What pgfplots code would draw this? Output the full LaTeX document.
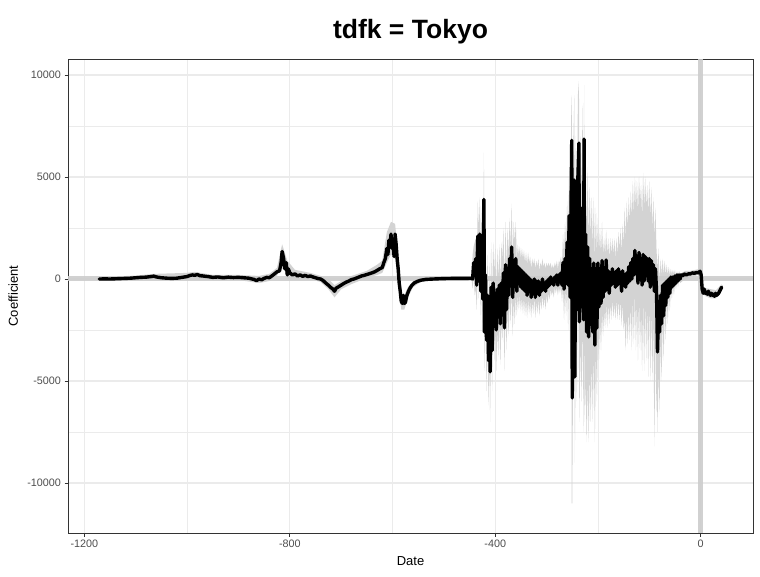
\documentclass[border=0pt]{standalone}
\usepackage{fontspec}
\setmainfont{Liberation Sans}
\usepackage{pgfplots}
\pgfplotsset{compat=1.18}
\usepackage{pgfplotstable}
\usepgfplotslibrary{fillbetween}
\definecolor{gridc}{RGB}{235,235,235}
\definecolor{rib}{RGB}{211,211,211}
\definecolor{refc}{RGB}{204,204,204}
\definecolor{g20}{RGB}{51,51,51}
\definecolor{g30}{RGB}{77,77,77}

\pgfplotstableread{
x lo hi
-1171 -80 80
-1100 -50 170
-1065 0 250
-1000 0 300
-985 50 350
-950 -50 200
-900 -50 200
-860 -200 150
-840 -100 250
-825 150 550
-815 800 1700
-805 0 900
-790 50 450
-760 0 300
-740 -150 150
-725 -500 0
-713 -900 -300
-700 -500 -100
-680 -250 150
-650 50 400
-630 200 700
-620 300 900
-611 800 2300
-603 1200 2800
-595 1000 2700
-589 -200 1200
-583 -1500 -700
-577 -1500 -800
-570 -900 -400
-560 -400 -100
-545 -150 30
-520 -50 60
-446 -30 100
-444 -500 1200
-442 200 1600
-440 -800 1800
-438 -500 2000
-436 -1500 800
-434 500 3800
-432 -1000 2500
-430 200 4000
-428 -2000 1500
-426 -200 3500
-424 -2500 1000
-422 2000 6200
-421 -4500 -500
-419 -1500 2000
-417 -5500 -800
-415 -3000 1200
-413 -6200 -1500
-411 -4000 800
-410 -7000 -2500
-408 -2500 1800
-406 -5500 -1000
-404 -2000 1800
-402 -4000 300
-400 -2500 1500
-398 -4500 -500
-396 -2500 1500
-394 -3800 0
-392 -2000 1700
-390 -4200 -200
-388 -2200 1800
-386 -3000 1000
-384 -1500 2500
-382 -4500 -300
-380 -1200 2800
-378 -3500 500
-376 -1500 2500
-374 -2800 1200
-372 -1000 3000
-370 -2200 1600
-368 -500 3700
-366 -2800 1000
-364 -1000 2800
-362 -2200 1800
-360 -800 2800
-358 -1800 1000
-356 -800 1700
-354 -1500 1200
-352 -800 1600
-350 -1600 1000
-348 -900 1500
-346 -1700 1000
-344 -900 1400
-342 -1800 800
-340 -1000 1300
-338 -1900 700
-336 -1000 1300
-334 -1700 800
-332 -1100 1100
-330 -1900 500
-328 -1100 1000
-326 -1700 700
-324 -900 1000
-322 -1900 500
-320 -1100 900
-318 -1700 600
-316 -1000 1000
-314 -1800 400
-312 -1000 800
-310 -1500 600
-308 -800 1000
-306 -1400 600
-304 -900 800
-302 -1500 500
-300 -800 800
-298 -1200 600
-296 -700 800
-294 -1000 600
-292 -500 800
-290 -800 500
-288 -600 700
-286 -900 500
-284 -400 800
-282 -700 600
-280 -400 900
-278 -800 500
-276 -400 900
-274 -700 800
-272 -400 1100
-270 -1100 700
-268 -400 2200
-266 -2000 1200
-264 -500 2800
-262 -1800 1600
-260 -200 3800
-258 -2500 2200
-256 500 5500
-254 -4000 2500
-252 1500 8000
-251 -11000 9000
-250 -11000 -1000
-248 -3000 6500
-246 800 9000
-245 -9000 1000
-243 -2500 7000
-241 -6000 3000
-239 1000 9000
-237 -4000 9700
-236 -7000 3000
-234 -3000 7000
-232 -6000 4000
-230 -2000 8500
-228 -7500 3000
-227 -2000 9500
-226 -7000 4000
-224 -5000 6000
-222 -8000 2500
-220 -5000 5500
-218 -8000 2000
-216 -4500 4500
-214 -7000 2000
-212 -4000 4000
-210 -7000 1500
-208 -3500 4000
-206 -8000 1000
-204 -3500 3500
-202 -6000 1200
-200 -2500 3000
-198 -4000 1300
-196 -2000 2500
-194 -3500 1200
-192 -1600 2800
-190 -2800 1200
-188 -1600 2000
-186 -2400 1200
-184 -1200 2400
-182 -2400 1200
-180 -1200 2000
-178 -2200 1000
-176 -1200 2000
-174 -2000 1200
-172 -1000 2000
-170 -1900 1200
-168 -1200 2000
-166 -2000 1000
-164 -1000 2000
-162 -2000 1200
-160 -1000 2300
-158 -2000 1500
-156 -1000 2500
-154 -2300 1300
-152 -1200 2700
-150 -2500 1700
-148 -2000 3500
-146 -3500 2000
-144 -1800 3800
-142 -3200 2500
-140 -1500 4000
-138 -3000 2800
-136 -1200 4300
-134 -3500 3000
-132 -1000 4800
-130 -3200 3200
-128 -600 5000
-126 -3500 3500
-124 -1000 4800
-122 -4000 3200
-120 -800 5000
-118 -3500 3800
-116 -1500 4600
-114 -4500 3000
-112 -1000 5200
-110 -4500 3500
-108 -1000 5000
-106 -4000 3500
-104 -1200 4600
-102 -4800 3200
-100 -1000 4800
-98 -5000 3000
-96 -1500 4500
-94 -5000 2500
-92 -1800 4000
-90 -8200 2000
-88 -2500 3500
-86 -6500 1500
-85 -5500 1000
-84 -7500 500
-82 -4500 1500
-80 -6500 -200
-78 -3000 1000
-76 -5000 200
-74 -2000 1000
-72 -4000 200
-70 -1500 900
-68 -3000 200
-66 -1000 700
-64 -2200 200
-62 -700 600
-60 -1600 200
-58 -400 500
-56 -1000 250
-54 -300 450
-52 -800 250
-50 -200 450
-48 -500 150
-46 -100 400
-44 -400 150
-42 -50 400
-40 -200 250
-30 0 400
-20 100 400
-10 150 450
-1 250 500
1 50 350
3 -700 -300
10 -850 -450
20 -950 -500
30 -950 -550
41 -550 -250
}\ribbon

\pgfplotstableread{
x y
-1171 0
-1160 5
-1150 0
-1140 10
-1130 20
-1120 30
-1110 40
-1100 60
-1090 80
-1080 90
-1070 120
-1065 140
-1060 100
-1050 60
-1040 40
-1030 30
-1020 40
-1010 80
-1000 120
-995 170
-990 200
-985 180
-980 220
-975 160
-970 150
-960 120
-950 80
-940 100
-930 60
-920 90
-910 70
-900 80
-890 60
-880 40
-870 -20
-865 -80
-860 0
-855 -40
-850 30
-845 80
-840 60
-835 150
-830 250
-825 350
-820 400
-817 800
-815 1350
-812 1000
-810 500
-807 800
-805 200
-803 500
-800 300
-795 200
-790 250
-785 150
-780 200
-775 130
-770 180
-765 120
-760 150
-755 100
-750 60
-745 20
-740 0
-735 -80
-730 -200
-725 -300
-720 -420
-716 -500
-713 -600
-710 -450
-705 -380
-700 -300
-695 -220
-690 -150
-685 -100
-680 -30
-675 0
-670 50
-665 100
-660 150
-655 180
-650 220
-645 260
-640 300
-635 350
-630 420
-625 500
-620 560
-617 800
-614 1000
-611 1500
-609 1200
-607 1900
-605 1600
-603 2200
-601 1500
-599 1800
-597 1100
-595 2200
-593 1700
-591 1000
-589 500
-587 -200
-585 -600
-583 -1100
-581 -1200
-579 -800
-577 -1200
-575 -1150
-572 -800
-569 -600
-566 -450
-562 -300
-558 -200
-552 -120
-545 -60
-535 -20
-520 0
-500 20
-480 30
-460 30
-450 35
-446 40
-444 0
-442 800
-440 200
-438 1000
-436 -300
-434 2100
-432 500
-430 2200
-428 -600
-426 1500
-424 -1000
-422 3900
-421 -2600
-419 200
-417 -3000
-415 -800
-413 -4000
-411 -1500
-410 -4550
-408 -400
-406 -3500
-404 -200
-402 -2000
-400 -700
-398 -2500
-396 -500
-394 -1800
-392 -300
-390 -2200
-388 -200
-386 -1000
-384 300
-382 -2400
-380 700
-378 -1500
-376 500
-374 -800
-372 1000
-370 -300
-368 1570
-366 -900
-364 900
-362 -200
-360 1000
-358 -600
-356 600
-354 -200
-352 500
-350 -400
-348 400
-346 -500
-344 300
-342 -600
-340 200
-338 -800
-336 100
-334 -500
-332 0
-330 -900
-328 -100
-326 -700
-324 0
-322 -900
-320 -100
-318 -700
-316 -100
-314 -800
-312 -200
-310 -600
-308 0
-306 -500
-304 -200
-302 -600
-300 -100
-298 -400
-296 0
-294 -300
-292 100
-290 -200
-288 0
-286 -300
-284 100
-282 -100
-280 200
-278 -300
-276 200
-274 0
-272 300
-270 -300
-268 800
-266 -500
-264 1000
-262 -200
-260 1800
-258 -300
-256 3100
-254 -900
-252 4500
-251 6800
-250 -5830
-248 2000
-246 4850
-245 -4800
-243 3000
-241 -1500
-239 5000
-237 6660
-236 -2100
-234 2500
-232 -1000
-230 3500
-228 -2000
-227 6860
-226 -1500
-224 2200
-222 -2600
-220 1570
-218 -2840
-216 1000
-214 -1800
-212 500
-210 -2600
-208 780
-206 -3240
-204 500
-202 -2400
-200 780
-198 -1370
-196 500
-194 -1200
-192 900
-190 -900
-188 300
-186 -600
-184 930
-182 -500
-180 400
-178 -700
-176 300
-174 -300
-172 500
-170 -200
-168 300
-166 -400
-164 400
-162 -300
-160 500
-158 -200
-156 300
-154 -600
-152 400
-150 -300
-148 200
-146 -400
-144 300
-142 -200
-140 600
-138 -100
-136 800
-134 0
-132 1000
-130 200
-128 1400
-126 300
-124 1000
-122 -200
-120 1300
-118 500
-116 900
-114 -300
-112 1200
-110 -100
-108 1100
-106 200
-104 1000
-102 -100
-100 1000
-98 -400
-96 900
-94 -200
-92 700
-90 -600
-88 500
-86 -500
-85 -2000
-84 -3580
-82 -1500
-80 -2600
-78 -800
-76 -2200
-74 -300
-72 -1800
-70 -200
-68 -1300
-66 -100
-64 -900
-62 0
-60 -700
-58 100
-56 -400
-54 100
-52 -300
-50 150
-48 -200
-46 200
-44 -100
-42 200
-40 0
-38 200
-35 150
-32 250
-28 200
-24 250
-20 250
-16 300
-12 280
-8 320
-4 300
-1 380
1 200
3 -500
5 -700
7 -500
9 -700
11 -650
13 -750
15 -600
17 -700
19 -800
21 -700
23 -800
25 -750
27 -850
29 -700
31 -800
33 -750
35 -700
37 -600
39 -500
41 -400
}\coef

\begin{document}
\begin{tikzpicture}
\begin{axis}[
  at={(68pt,43pt)}, anchor=south west,
  scale only axis, width=685pt, height=474pt,
  xmin=-1232, xmax=102, ymin=-12451, ymax=10784,
  xtick={-1200,-800,-400,0},
  ytick={-10000,-5000,0,5000,10000},
  minor x tick num=1, minor y tick num=1,
  grid=both,
  major grid style={draw=gridc, line width=1.1pt},
  minor grid style={draw=gridc, line width=0.55pt},
  axis line style={draw=g20, line width=0.8pt},
  tick align=outside, tick pos=left,
  major tick length=3.5pt, minor tick length=0pt,
  major tick style={draw=g20, line width=0.8pt},
  ticklabel style={font=\fontsize{10.8}{12}\selectfont, text=g30},
  scaled ticks=false,
  /pgf/number format/1000 sep={},
  /pgf/number format/assume math mode=true,
  xlabel={Date}, ylabel={Coefficient},
  label style={font=\fontsize{13}{15}\selectfont},
  xlabel style={at={(0.5,-0.0696)}, anchor=base},
  ylabel style={at={(-0.073,0.5)}, anchor=base},
  title={tdfk = Tokyo},
  title style={font=\fontsize{26.5}{30}\selectfont\bfseries, at={(0.5,1.0296)}, anchor=base},
]
\addplot[name path=up, draw=none, forget plot] table[x=x, y=hi]{\ribbon};
\addplot[name path=lo, draw=none, forget plot] table[x=x, y=lo]{\ribbon};
\addplot[fill=rib, draw=none, forget plot] fill between[of=up and lo];
\addplot[refc, line width=5pt, opacity=0.9] coordinates {(-1232,0) (102,0)};
\addplot[refc, line width=5pt, opacity=0.9] coordinates {(0,-12451) (0,10784)};
\addplot[black, line width=3.4pt, line join=round, line cap=round] table[x=x, y=y]{\coef};
\end{axis}
\path (0,0) rectangle (760pt,576pt);
\end{tikzpicture}
\end{document}
